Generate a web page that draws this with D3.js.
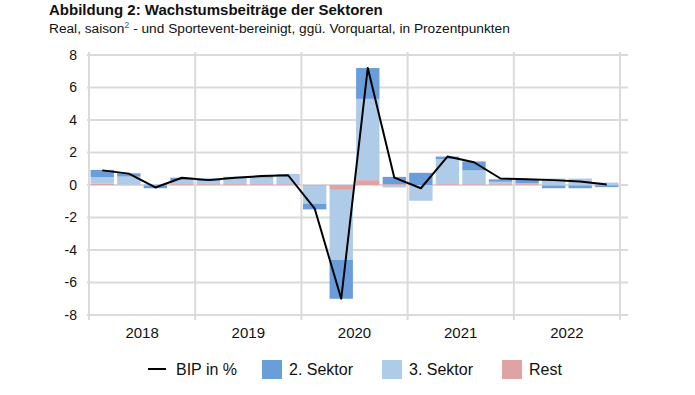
<!DOCTYPE html>
<html>
<head>
<meta charset="utf-8">
<script src="https://cdn.jsdelivr.net/npm/d3@7"></script>
<style>
  body { margin: 0; background: #fff; }
  svg { display: block; font-family: "Liberation Sans", Arial, sans-serif; }
</style>
</head>
<body>
<div id="chart"></div>
<script>
// chart data
const years = ["2018", "2019", "2020", "2021", "2022"];
const quarters = years.flatMap(y => ["Q1", "Q2", "Q3", "Q4"].map(q => y + q));
const bip  = [0.9, 0.7, -0.15, 0.45, 0.3, 0.45, 0.55, 0.6, -1.45, -7.0, 7.2, 0.45, -0.2, 1.75, 1.4, 0.4, 0.35, 0.3, 0.22, 0.03];
const sek2 = [0.45, 0.2, -0.15, 0.15, 0.15, 0.1, 0.1, 0.05, -0.35, -2.4, 1.9, 0.45, 0.75, 0.15, 0.55, 0.15, 0.25, -0.15, -0.15, -0.1];
const sek3 = [0.4, 0.5, 0.05, 0.25, 0.2, 0.35, 0.4, 0.55, -1.1, -4.3, 5.0, -0.15, -0.95, 1.55, 0.85, 0.15, 0.05, 0.4, 0.4, 0.15];
const rest = [0.08, 0.02, -0.05, 0.05, 0.05, 0.05, 0.05, 0.05, -0.05, -0.3, 0.3, 0.05, -0.02, 0.05, 0.05, 0.05, 0.05, -0.05, -0.05, -0.03];
const yTicks = [-8, -6, -4, -2, 0, 2, 4, 6, 8];

const colors = { sek2: "#6a9edb", sek3: "#aecbe8", rest: "#e0a3a3", line: "#000", grid: "#dadada" };

const W = 695, H = 395;
const m = { left: 89, right: 75, top: 55, bottom: 80 };

const svg = d3.select("#chart").append("svg").attr("width", W).attr("height", H);

// titles
svg.append("text").attr("x", 49).attr("y", 15)
  .attr("font-size", 15).attr("font-weight", "bold").attr("fill", "#111")
  .text("Abbildung 2: Wachstumsbeiträge der Sektoren");
const sub = svg.append("text").attr("x", 49).attr("y", 33).attr("font-size", 13.7).attr("fill", "#111");
sub.append("tspan").text("Real, saison");
sub.append("tspan").attr("font-size", 9).attr("dy", -5).attr("fill", "#3b5bdb").text("2");
sub.append("tspan").attr("dy", 5).text(" - und Sportevent-bereinigt, ggü. Vorquartal, in Prozentpunkten");

const x = d3.scaleBand().domain(quarters).range([m.left, W - m.right]).paddingInner(0.12).paddingOuter(0.06);
const y = d3.scaleLinear().domain([-8, 8]).range([H - m.bottom, m.top]);
const step = x.step();
const yearX = i => m.left + i * 4 * step;

// grid
const grid = svg.append("g");
grid.selectAll("line.h").data(yTicks).join("line").attr("class", "h")
  .attr("x1", m.left - 2).attr("x2", W - m.right + 8)
  .attr("y1", d => y(d)).attr("y2", d => y(d))
  .attr("stroke", colors.grid).attr("stroke-width", 2);
grid.selectAll("line.v").data(d3.range(years.length + 1)).join("line").attr("class", "v")
  .attr("x1", d => yearX(d)).attr("x2", d => yearX(d))
  .attr("y1", m.top - 3).attr("y2", y(-8) + 5)
  .attr("stroke", colors.grid).attr("stroke-width", 2);

// y labels
svg.append("g").selectAll("text").data(yTicks).join("text")
  .attr("x", 77).attr("y", d => y(d)).attr("dy", "0.35em")
  .attr("text-anchor", "end").attr("font-size", 14).attr("fill", "#111")
  .text(d => d);

// year labels
svg.append("g").selectAll("text").data(years).join("text")
  .attr("x", (d, i) => yearX(i) + 2 * step).attr("y", y(-8) + 23)
  .attr("text-anchor", "middle").attr("font-size", 15).attr("fill", "#111")
  .text(d => d);

// stacked bars
const rows = quarters.map((q, i) => ({ q, rest: rest[i], sek3: sek3[i], sek2: sek2[i] }));
const keys = ["rest", "sek3", "sek2"];
const series = d3.stack().keys(keys).offset(d3.stackOffsetDiverging)(rows);

svg.append("g").selectAll("g").data(series).join("g")
  .attr("fill", d => colors[d.key])
  .selectAll("rect").data(d => d).join("rect")
  .attr("x", d => x(d.data.q))
  .attr("width", x.bandwidth())
  .attr("y", d => y(Math.max(d[0], d[1])))
  .attr("height", d => Math.abs(y(d[0]) - y(d[1])));

// BIP line
svg.append("path")
  .datum(bip)
  .attr("fill", "none").attr("stroke", colors.line).attr("stroke-width", 2)
  .attr("stroke-linejoin", "round")
  .attr("d", d3.line().x((d, i) => x(quarters[i]) + x.bandwidth() / 2).y(d => y(d)));

// legend
const lg = svg.append("g").attr("font-size", 16).attr("fill", "#111");
const ly = 369;
lg.append("line").attr("x1", 148).attr("x2", 166).attr("y1", ly).attr("y2", ly)
  .attr("stroke", colors.line).attr("stroke-width", 2);
lg.append("text").attr("x", 176).attr("y", ly).attr("dy", "0.35em").text("BIP in %");
const swatches = [
  { key: "sek2", label: "2. Sektor", x: 262 },
  { key: "sek3", label: "3. Sektor", x: 382 },
  { key: "rest", label: "Rest", x: 502 }
];
swatches.forEach(s => {
  lg.append("rect").attr("x", s.x).attr("y", ly - 9).attr("width", 20).attr("height", 19)
    .attr("fill", colors[s.key]);
  lg.append("text").attr("x", s.x + 27).attr("y", ly).attr("dy", "0.35em").text(s.label);
});
</script>
</body>
</html>
